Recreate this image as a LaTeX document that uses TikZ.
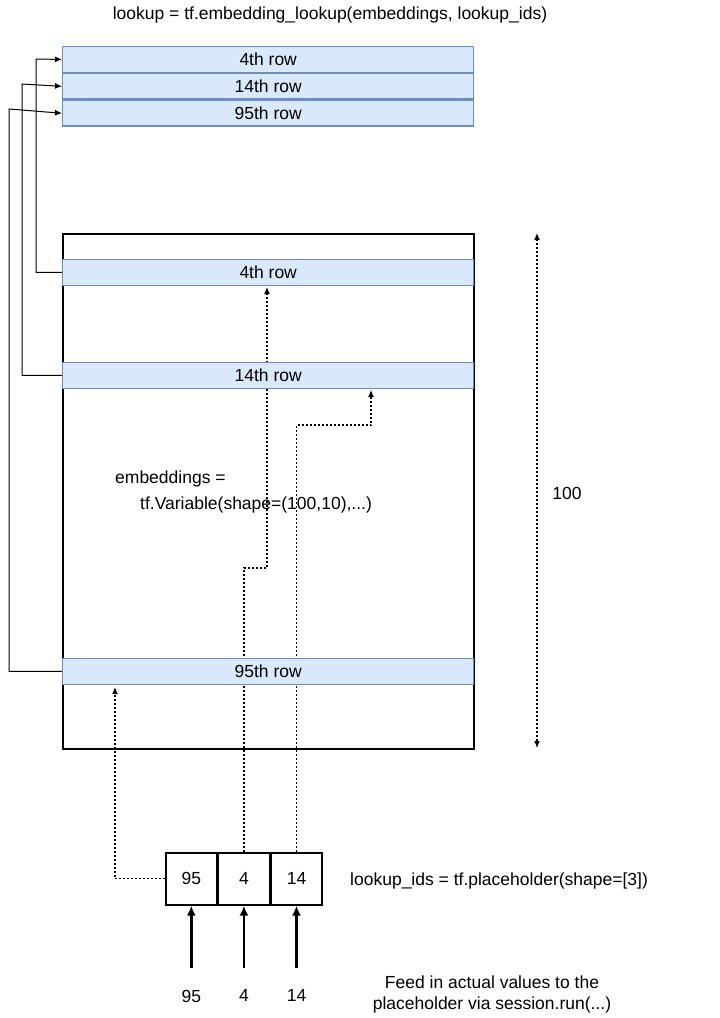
\documentclass[tikz,border=0pt]{standalone}
\usepackage{fontspec}
\setmainfont{Liberation Sans}
\usetikzlibrary{arrows.meta,positioning,backgrounds}
\definecolor{rowfill}{HTML}{DAE8FC}
\definecolor{rowline}{HTML}{6C8EBF}
\tikzset{
  row/.style={draw=rowline,fill=rowfill,line width=1.4pt,minimum width=411pt,minimum height=25.5pt,inner sep=0pt,font=\fontsize{17.5}{20}\selectfont},
  idbox/.style={draw,line width=1.6pt,minimum width=51pt,minimum height=52pt,inner sep=0pt,font=\fontsize{17.5}{20}\selectfont},
  txt/.style={font=\fontsize{17.5}{20}\selectfont,inner sep=0pt},
  link/.style={line width=1pt,-{Latex[length=7pt,width=6pt]}},
  dots/.style={line width=1.2pt,dash pattern=on 2pt off 2pt,-{Latex[length=7pt,width=6pt]}},
  feed/.style={line width=2.8pt,-{Latex[length=10pt,width=9pt]}}
}
\begin{document}
\begin{tikzpicture}[x=1pt,y=-1pt]
  \useasboundingbox (0,0) rectangle (720,1018);
  % top result rows
  \node[txt] (lookup) at (330,15) {lookup = tf.embedding\_lookup(embeddings, lookup\_ids)};
  \node[row,anchor=north west] (t4) at (62,46) {4th row};
  \node[row,below=0pt of t4] (t14) {14th row};
  \node[row,below=0pt of t14] (t95) {95th row};
  % embeddings matrix
  \node[draw,line width=1.8pt,anchor=north west,minimum width=411pt,minimum height=515pt,inner sep=0pt] (emb) at (62,233) {};
  \node[row,anchor=north west] (r4) at (62,259) {4th row};
  \node[row,anchor=north west] (r14) at (62,362) {14th row};
  \node[row,anchor=north west] (r95) at (62,658) {95th row};
  \node[txt,anchor=west] (embl) at (115,479) {embeddings =};
  \node[txt,anchor=west] (embv) at (140,505) {tf.Variable(shape=(100,10),...)};
  \draw[dots,{Latex[length=7pt,width=6pt]}-{Latex[length=7pt,width=6pt]}] (537,233) coordinate (h1) -- (537,748) coordinate (h2);
  \node[txt] (hundred) at (567,493) {100};
  % ids
  \node[idbox,anchor=north west] (i95) at (165,852) {95};
  \node[idbox,right=0pt of i95] (i4) {4};
  \node[idbox,right=0pt of i4] (i14) {14};
  \node[txt,anchor=west] (ph) at (350,881) {lookup\_ids = tf.placeholder(shape=[3])};
  % copies to result
  \draw[link] (r4.west) -| (36,59) -- (t4.west);
  \draw[link] (r14.west) -| (22,84) -- (t14.west);
  \draw[link] (r95.west) -| (9,109) -- (t95.west);
  % lookups, behind the rows
  \begin{scope}[on background layer]
    \draw[dots] (i4.north) |- (267,568) -- (267,287);
    \draw[dots] (i14.north) |- (371,425) -- (371,390);
  \end{scope}
  \draw[dots] (i95.west) -| (115,687);
  % fed values
  \foreach \v/\n in {95/i95,4/i4,14/i14}{
    \node[txt,below=84pt of \n.south] (v\n) {\v};
    \draw[feed] (v\n.north) ++(0,-22) coordinate (f\n) -- (\n.south);
  }
  \node[txt] (fd1) at (492,982) {Feed in actual values to the};
  \node[txt] (fd2) at (492,1005) {placeholder via session.run(...)};
\end{tikzpicture}
\end{document}
